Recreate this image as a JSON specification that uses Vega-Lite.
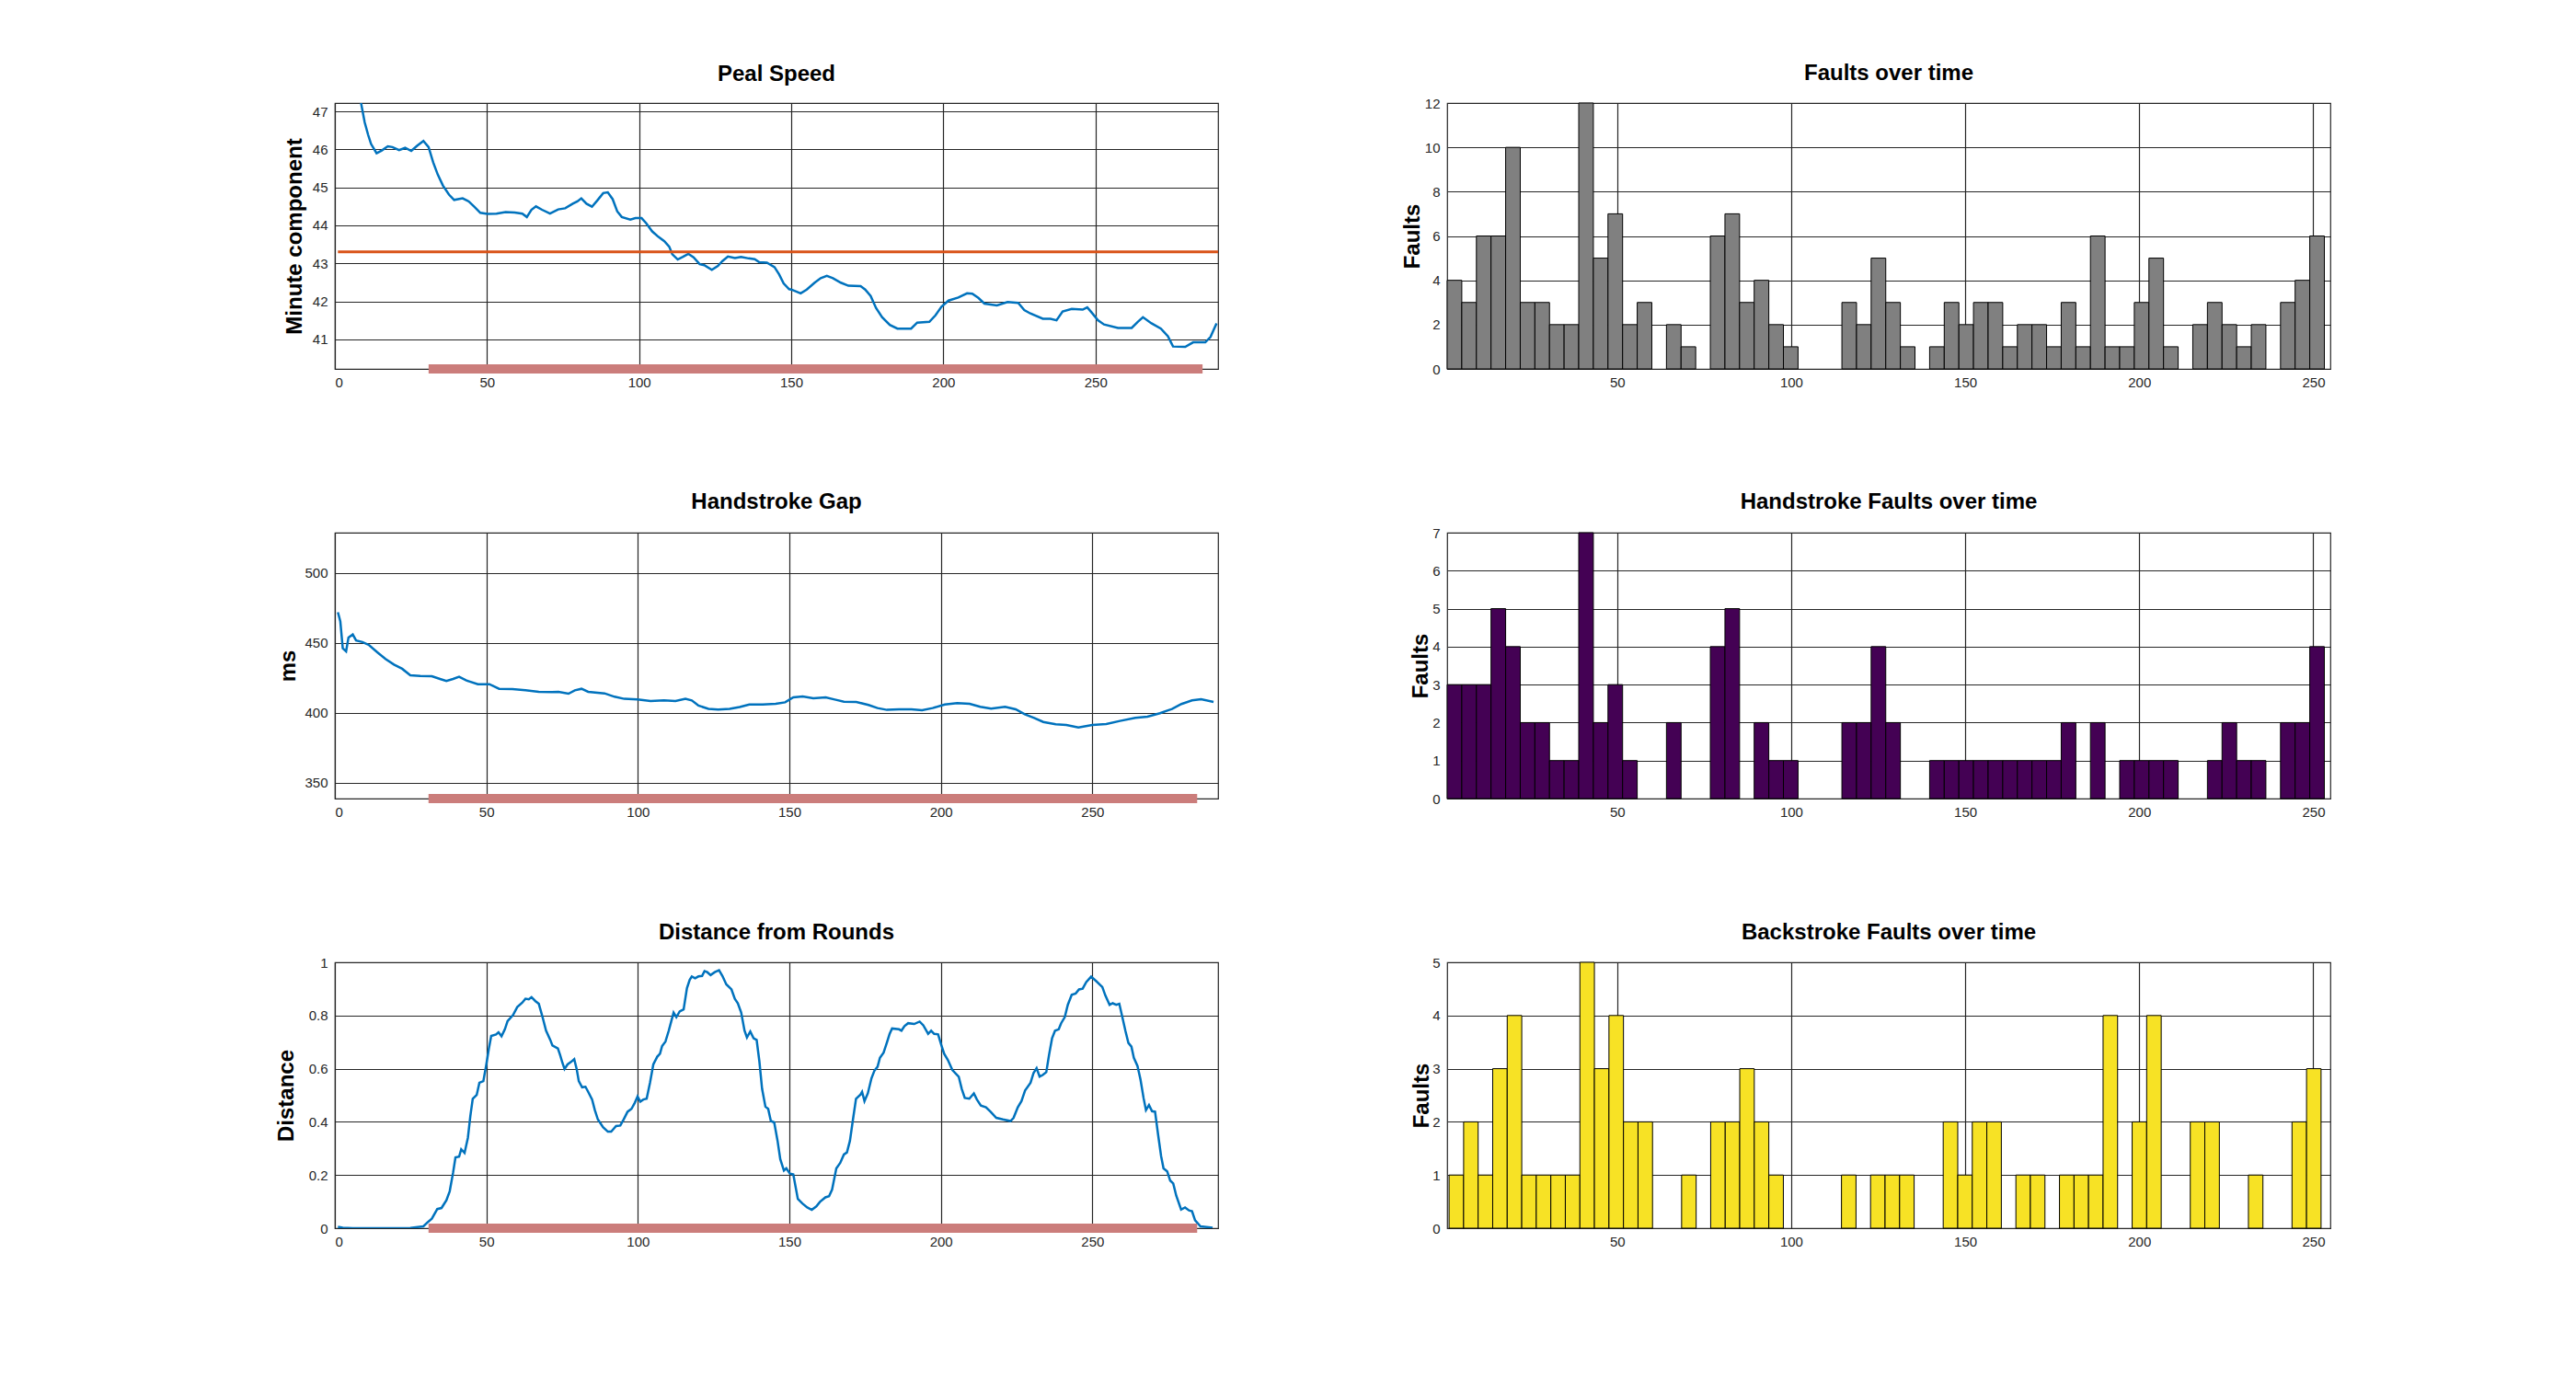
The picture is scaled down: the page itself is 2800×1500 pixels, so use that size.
{
  "$schema": "https://vega.github.io/schema/vega-lite/v6.json",
  "background": "white",
  "padding": {"left": 298, "top": 67, "right": 5, "bottom": 5},
  "config": {
    "font": "Liberation Sans",
    "view": {"stroke": "#262626", "strokeWidth": 1.2},
    "axis": {
      "labelFont": "Liberation Sans", "labelFontSize": 15, "labelColor": "#262626",
      "titleFont": "Liberation Sans", "titleFontSize": 24, "titleFontWeight": "bold", "titleColor": "#000000",
      "grid": true, "gridColor": "#262626", "gridWidth": 1.2, "gridOpacity": 1,
      "domain": false, "ticks": false
    },
    "axisX": {"labelPadding": 7},
    "axisY": {"labelPadding": 8},
    "title": {"font": "Liberation Sans", "fontSize": 24, "fontWeight": "bold", "color": "#000000", "anchor": "middle", "frame": "group", "baseline": "alphabetic"}
  },
  "datasets": {
    "peal": [
      {"x":1,"y":49.6},{"x":4,"y":48.4},{"x":7,"y":47.6},{"x":8.6,"y":47.22},{"x":9.8,"y":46.71},{"x":10.9,"y":46.39},{"x":11.9,"y":46.14},{"x":13.7,"y":45.9},{"x":15.4,"y":45.97},{"x":17.4,"y":46.08},{"x":18.9,"y":46.06},{"x":21.1,"y":45.98},{"x":23.1,"y":46.04},{"x":25.1,"y":45.96},{"x":27.1,"y":46.1},{"x":29.1,"y":46.22},{"x":30.8,"y":46.06},{"x":32.3,"y":45.66},{"x":33.8,"y":45.34},{"x":35.5,"y":45.05},{"x":37.5,"y":44.81},{"x":39.2,"y":44.67},{"x":42,"y":44.71},{"x":44,"y":44.63},{"x":45.8,"y":44.49},{"x":47.8,"y":44.33},{"x":50.1,"y":44.3},{"x":53.1,"y":44.31},{"x":56.1,"y":44.35},{"x":59.1,"y":44.34},{"x":61.6,"y":44.31},{"x":63.1,"y":44.22},{"x":64.6,"y":44.41},{"x":66.1,"y":44.5},{"x":68.1,"y":44.41},{"x":70.7,"y":44.31},{"x":73.4,"y":44.42},{"x":75.7,"y":44.45},{"x":78.2,"y":44.57},{"x":79.7,"y":44.63},{"x":81,"y":44.71},{"x":82.7,"y":44.57},{"x":84.5,"y":44.49},{"x":86.2,"y":44.65},{"x":88.2,"y":44.85},{"x":89.7,"y":44.87},{"x":91.3,"y":44.69},{"x":92.8,"y":44.37},{"x":94.3,"y":44.22},{"x":97.1,"y":44.15},{"x":98.8,"y":44.19},{"x":100.8,"y":44.19},{"x":102.3,"y":44.06},{"x":104.3,"y":43.84},{"x":106.3,"y":43.7},{"x":108.3,"y":43.58},{"x":109.9,"y":43.44},{"x":110.9,"y":43.24},{"x":112.7,"y":43.1},{"x":114.4,"y":43.17},{"x":116.2,"y":43.25},{"x":117.9,"y":43.16},{"x":119.9,"y":42.98},{"x":121.4,"y":42.95},{"x":123.9,"y":42.83},{"x":125.9,"y":42.93},{"x":127.4,"y":43.06},{"x":129.2,"y":43.18},{"x":131.5,"y":43.14},{"x":133.5,"y":43.17},{"x":136,"y":43.13},{"x":138,"y":43.11},{"x":139.5,"y":43.03},{"x":142,"y":43.02},{"x":144.5,"y":42.9},{"x":146,"y":42.71},{"x":147.5,"y":42.47},{"x":149.3,"y":42.32},{"x":150,"y":42.31},{"x":153.1,"y":42.21},{"x":155.1,"y":42.31},{"x":157.7,"y":42.49},{"x":159.7,"y":42.61},{"x":161.7,"y":42.67},{"x":163.7,"y":42.61},{"x":166.3,"y":42.49},{"x":168.8,"y":42.41},{"x":172.8,"y":42.4},{"x":174.3,"y":42.31},{"x":176.1,"y":42.14},{"x":177.9,"y":41.82},{"x":179.9,"y":41.58},{"x":182.4,"y":41.38},{"x":184.9,"y":41.28},{"x":189.4,"y":41.28},{"x":191.4,"y":41.44},{"x":195.4,"y":41.46},{"x":197.4,"y":41.63},{"x":199.4,"y":41.86},{"x":201.7,"y":42.02},{"x":204.9,"y":42.1},{"x":207.8,"y":42.21},{"x":209.5,"y":42.2},{"x":211.5,"y":42.09},{"x":213.5,"y":41.94},{"x":217.6,"y":41.89},{"x":221.1,"y":41.98},{"x":224.6,"y":41.96},{"x":226.6,"y":41.77},{"x":228.6,"y":41.68},{"x":232.7,"y":41.54},{"x":235.2,"y":41.54},{"x":237.2,"y":41.5},{"x":239.2,"y":41.73},{"x":242.2,"y":41.8},{"x":245.8,"y":41.78},{"x":247.3,"y":41.84},{"x":248.8,"y":41.7},{"x":250.8,"y":41.5},{"x":252.8,"y":41.39},{"x":257.4,"y":41.3},{"x":261.9,"y":41.3},{"x":263.9,"y":41.46},{"x":265.6,"y":41.58},{"x":268.4,"y":41.42},{"x":271.5,"y":41.28},{"x":273.8,"y":41.08},{"x":275.5,"y":40.81},{"x":279.5,"y":40.8},{"x":282.1,"y":40.92},{"x":286.1,"y":40.92},{"x":287.8,"y":41.06},{"x":289.8,"y":41.42}
    ],
    "hand": [
      {"x":1,"y":472},{"x":1.8,"y":465.4},{"x":2.6,"y":446.3},{"x":3.7,"y":444.1},{"x":4.5,"y":454},{"x":5.9,"y":456.1},{"x":7,"y":451.8},{"x":9.1,"y":450.7},{"x":11.3,"y":448.5},{"x":14,"y":443.4},{"x":16.7,"y":438.6},{"x":19.5,"y":434.6},{"x":22.2,"y":431.6},{"x":24.9,"y":427},{"x":28.2,"y":426.5},{"x":32,"y":426.3},{"x":34.7,"y":424.3},{"x":36.8,"y":422.8},{"x":39,"y":424.3},{"x":41,"y":425.9},{"x":43.4,"y":423.2},{"x":47.2,"y":420.6},{"x":51,"y":420.6},{"x":54.2,"y":417.3},{"x":58.6,"y":417.1},{"x":62.9,"y":416.2},{"x":67.3,"y":415.1},{"x":71.6,"y":414.9},{"x":73.8,"y":415.1},{"x":77.1,"y":413.8},{"x":79.2,"y":416.2},{"x":81.4,"y":417.3},{"x":83.6,"y":415.1},{"x":89,"y":414},{"x":92.3,"y":411.6},{"x":95.5,"y":410.1},{"x":99.9,"y":409.6},{"x":104.2,"y":408.6},{"x":108.6,"y":409},{"x":112.4,"y":408.6},{"x":115.7,"y":410.1},{"x":117.8,"y":409},{"x":120,"y":405.3},{"x":123.3,"y":402.9},{"x":126.5,"y":402.4},{"x":130.3,"y":402.9},{"x":133.6,"y":404.2},{"x":136.8,"y":406.1},{"x":141.2,"y":406.1},{"x":145.5,"y":406.6},{"x":148.6,"y":407.6},{"x":151.3,"y":411.2},{"x":154.4,"y":411.8},{"x":157.9,"y":410.5},{"x":162,"y":411.2},{"x":165,"y":409.6},{"x":168,"y":408.1},{"x":172.1,"y":407.9},{"x":176.1,"y":405.7},{"x":179.1,"y":403.5},{"x":182.2,"y":402.2},{"x":186.2,"y":402.6},{"x":190.3,"y":402.6},{"x":193.8,"y":402},{"x":197.3,"y":403.5},{"x":201.3,"y":406.1},{"x":205.4,"y":407},{"x":209.5,"y":406.6},{"x":213,"y":404.4},{"x":216.6,"y":403.1},{"x":221.2,"y":404.4},{"x":224.7,"y":402.6},{"x":227.7,"y":399.1},{"x":230.8,"y":396.5},{"x":233.8,"y":393.6},{"x":237.9,"y":391.9},{"x":241.4,"y":391.4},{"x":245.4,"y":389.7},{"x":250,"y":391.4},{"x":254.6,"y":392.1},{"x":259.1,"y":394.3},{"x":264.2,"y":396.5},{"x":268.2,"y":397.4},{"x":272.3,"y":399.8},{"x":276.3,"y":402.9},{"x":279.4,"y":406.4},{"x":282.9,"y":409},{"x":285.9,"y":409.9},{"x":290,"y":407.9}
    ],
    "dist": [
      {"x":1,"y":0.005},{"x":2.6,"y":0.002},{"x":5.9,"y":0},{"x":15,"y":0},{"x":24.9,"y":0.001},{"x":29.2,"y":0.007},{"x":30.5,"y":0.021},{"x":32,"y":0.036},{"x":33.8,"y":0.072},{"x":35.2,"y":0.076},{"x":36.8,"y":0.105},{"x":37.9,"y":0.139},{"x":39,"y":0.208},{"x":39.8,"y":0.266},{"x":41,"y":0.269},{"x":41.7,"y":0.297},{"x":42.8,"y":0.283},{"x":43.9,"y":0.34},{"x":44.7,"y":0.421},{"x":45.5,"y":0.487},{"x":46.8,"y":0.501},{"x":47.7,"y":0.547},{"x":49,"y":0.553},{"x":49.9,"y":0.61},{"x":50.8,"y":0.674},{"x":51.6,"y":0.723},{"x":53.2,"y":0.729},{"x":54,"y":0.737},{"x":55,"y":0.722},{"x":56.1,"y":0.748},{"x":57,"y":0.779},{"x":58.8,"y":0.802},{"x":60.2,"y":0.832},{"x":61.8,"y":0.848},{"x":62.9,"y":0.863},{"x":64,"y":0.861},{"x":64.9,"y":0.869},{"x":66.2,"y":0.854},{"x":67.3,"y":0.844},{"x":68.4,"y":0.8},{"x":69.7,"y":0.743},{"x":71.1,"y":0.708},{"x":71.8,"y":0.687},{"x":73.6,"y":0.676},{"x":74.3,"y":0.653},{"x":75.1,"y":0.622},{"x":75.8,"y":0.599},{"x":76.8,"y":0.616},{"x":77.9,"y":0.625},{"x":79,"y":0.636},{"x":79.8,"y":0.599},{"x":80.5,"y":0.553},{"x":81.6,"y":0.53},{"x":82.7,"y":0.532},{"x":83.6,"y":0.513},{"x":84.9,"y":0.484},{"x":85.8,"y":0.444},{"x":86.8,"y":0.409},{"x":88.5,"y":0.38},{"x":90.1,"y":0.363},{"x":91.2,"y":0.363},{"x":92.8,"y":0.384},{"x":94.2,"y":0.386},{"x":95.3,"y":0.409},{"x":96.6,"y":0.438},{"x":97.9,"y":0.449},{"x":99,"y":0.472},{"x":99.9,"y":0.495},{"x":100.8,"y":0.476},{"x":101.8,"y":0.484},{"x":102.9,"y":0.487},{"x":104,"y":0.547},{"x":105.1,"y":0.616},{"x":106.4,"y":0.645},{"x":107.3,"y":0.656},{"x":108,"y":0.685},{"x":109.1,"y":0.702},{"x":110.2,"y":0.743},{"x":111,"y":0.777},{"x":111.8,"y":0.811},{"x":112.7,"y":0.794},{"x":113.8,"y":0.815},{"x":115.1,"y":0.823},{"x":116.2,"y":0.903},{"x":117.1,"y":0.934},{"x":117.8,"y":0.947},{"x":118.9,"y":0.94},{"x":120,"y":0.947},{"x":121.2,"y":0.949},{"x":122,"y":0.967},{"x":122.9,"y":0.963},{"x":124,"y":0.952},{"x":125.4,"y":0.963},{"x":126.8,"y":0.97},{"x":127.9,"y":0.949},{"x":129.2,"y":0.917},{"x":130.9,"y":0.898},{"x":132,"y":0.863},{"x":133,"y":0.846},{"x":134.1,"y":0.811},{"x":135.2,"y":0.743},{"x":136,"y":0.717},{"x":137.1,"y":0.74},{"x":138.2,"y":0.714},{"x":139.2,"y":0.708},{"x":140.1,"y":0.628},{"x":141,"y":0.524},{"x":142.1,"y":0.457},{"x":143,"y":0.449},{"x":143.9,"y":0.403},{"x":145,"y":0.398},{"x":146.1,"y":0.329},{"x":147,"y":0.26},{"x":148.2,"y":0.217},{"x":149,"y":0.225},{"x":150.2,"y":0.205},{"x":151.3,"y":0.202},{"x":152.8,"y":0.11},{"x":154.3,"y":0.093},{"x":155.9,"y":0.078},{"x":157.4,"y":0.069},{"x":158.9,"y":0.082},{"x":160.1,"y":0.099},{"x":161.9,"y":0.116},{"x":163.1,"y":0.12},{"x":164.1,"y":0.145},{"x":165.5,"y":0.225},{"x":166.8,"y":0.246},{"x":168,"y":0.277},{"x":169,"y":0.285},{"x":170,"y":0.329},{"x":171,"y":0.409},{"x":172,"y":0.487},{"x":173.5,"y":0.503},{"x":174,"y":0.513},{"x":174.8,"y":0.478},{"x":175.9,"y":0.507},{"x":177.1,"y":0.564},{"x":178.1,"y":0.593},{"x":179.1,"y":0.607},{"x":179.9,"y":0.641},{"x":181.1,"y":0.66},{"x":182.3,"y":0.702},{"x":183.1,"y":0.731},{"x":183.9,"y":0.751},{"x":186.2,"y":0.748},{"x":187,"y":0.743},{"x":188,"y":0.76},{"x":189.2,"y":0.771},{"x":191.2,"y":0.768},{"x":193,"y":0.777},{"x":194.2,"y":0.763},{"x":195.8,"y":0.731},{"x":196.8,"y":0.743},{"x":197.8,"y":0.731},{"x":199.1,"y":0.729},{"x":200.1,"y":0.691},{"x":201.1,"y":0.656},{"x":202.3,"y":0.633},{"x":203.8,"y":0.595},{"x":205.9,"y":0.57},{"x":206.9,"y":0.524},{"x":207.9,"y":0.49},{"x":209.4,"y":0.487},{"x":210.9,"y":0.507},{"x":211.9,"y":0.484},{"x":213.2,"y":0.461},{"x":214.9,"y":0.455},{"x":216.4,"y":0.438},{"x":218.3,"y":0.415},{"x":220.5,"y":0.409},{"x":223,"y":0.403},{"x":224,"y":0.415},{"x":225.4,"y":0.455},{"x":226.6,"y":0.478},{"x":227.8,"y":0.518},{"x":229.6,"y":0.547},{"x":230.6,"y":0.584},{"x":231.6,"y":0.602},{"x":232.6,"y":0.57},{"x":233.6,"y":0.576},{"x":234.8,"y":0.587},{"x":235.7,"y":0.651},{"x":236.7,"y":0.714},{"x":237.7,"y":0.743},{"x":238.9,"y":0.748},{"x":239.7,"y":0.771},{"x":240.9,"y":0.794},{"x":241.9,"y":0.84},{"x":243.2,"y":0.878},{"x":244.5,"y":0.883},{"x":245.6,"y":0.898},{"x":246.8,"y":0.901},{"x":248,"y":0.926},{"x":249.6,"y":0.946},{"x":251.3,"y":0.929},{"x":253.3,"y":0.907},{"x":254.3,"y":0.875},{"x":255.7,"y":0.84},{"x":256.7,"y":0.846},{"x":257.9,"y":0.84},{"x":258.9,"y":0.844},{"x":259.9,"y":0.794},{"x":260.9,"y":0.743},{"x":261.9,"y":0.697},{"x":262.9,"y":0.683},{"x":263.7,"y":0.641},{"x":264.9,"y":0.61},{"x":265.9,"y":0.559},{"x":266.9,"y":0.49},{"x":267.7,"y":0.444},{"x":268.7,"y":0.463},{"x":269.7,"y":0.44},{"x":270.7,"y":0.438},{"x":271.7,"y":0.352},{"x":272.7,"y":0.271},{"x":273.5,"y":0.225},{"x":274.7,"y":0.214},{"x":275.7,"y":0.179},{"x":276.7,"y":0.168},{"x":277.7,"y":0.122},{"x":279.3,"y":0.07},{"x":280.6,"y":0.078},{"x":281.9,"y":0.067},{"x":282.9,"y":0.064},{"x":283.9,"y":0.03},{"x":285.7,"y":0.007},{"x":289.7,"y":0.002}
    ],
    "faults": [
      {"x0":1.18,"x1":5.38,"n":4},{"x0":5.38,"x1":9.58,"n":3},{"x0":9.58,"x1":13.78,"n":6},{"x0":13.78,"x1":17.98,"n":6},{"x0":17.98,"x1":22.18,"n":10},{"x0":22.18,"x1":26.38,"n":3},{"x0":26.38,"x1":30.58,"n":3},{"x0":30.58,"x1":34.78,"n":2},{"x0":34.78,"x1":38.98,"n":2},{"x0":38.98,"x1":43.18,"n":12},{"x0":43.18,"x1":47.38,"n":5},{"x0":47.38,"x1":51.58,"n":7},{"x0":51.58,"x1":55.78,"n":2},{"x0":55.78,"x1":59.98,"n":3},{"x0":64.18,"x1":68.38,"n":2},{"x0":68.38,"x1":72.58,"n":1},{"x0":76.78,"x1":80.98,"n":6},{"x0":80.98,"x1":85.18,"n":7},{"x0":85.18,"x1":89.38,"n":3},{"x0":89.38,"x1":93.58,"n":4},{"x0":93.58,"x1":97.78,"n":2},{"x0":97.78,"x1":101.98,"n":1},{"x0":114.58,"x1":118.78,"n":3},{"x0":118.78,"x1":122.98,"n":2},{"x0":122.98,"x1":127.18,"n":5},{"x0":127.18,"x1":131.38,"n":3},{"x0":131.38,"x1":135.58,"n":1},{"x0":139.78,"x1":143.98,"n":1},{"x0":143.98,"x1":148.18,"n":3},{"x0":148.18,"x1":152.38,"n":2},{"x0":152.38,"x1":156.58,"n":3},{"x0":156.58,"x1":160.78,"n":3},{"x0":160.78,"x1":164.98,"n":1},{"x0":164.98,"x1":169.18,"n":2},{"x0":169.18,"x1":173.38,"n":2},{"x0":173.38,"x1":177.58,"n":1},{"x0":177.58,"x1":181.78,"n":3},{"x0":181.78,"x1":185.98,"n":1},{"x0":185.98,"x1":190.18,"n":6},{"x0":190.18,"x1":194.38,"n":1},{"x0":194.38,"x1":198.58,"n":1},{"x0":198.58,"x1":202.78,"n":3},{"x0":202.78,"x1":206.98,"n":5},{"x0":206.98,"x1":211.18,"n":1},{"x0":215.38,"x1":219.58,"n":2},{"x0":219.58,"x1":223.78,"n":3},{"x0":223.78,"x1":227.98,"n":2},{"x0":227.98,"x1":232.18,"n":1},{"x0":232.18,"x1":236.38,"n":2},{"x0":240.58,"x1":244.78,"n":3},{"x0":244.78,"x1":248.98,"n":4},{"x0":248.98,"x1":253.18,"n":6}
    ],
    "hfaults": [
      {"x0":1.18,"x1":5.38,"n":3},{"x0":5.38,"x1":9.58,"n":3},{"x0":9.58,"x1":13.78,"n":3},{"x0":13.78,"x1":17.98,"n":5},{"x0":17.98,"x1":22.18,"n":4},{"x0":22.18,"x1":26.38,"n":2},{"x0":26.38,"x1":30.58,"n":2},{"x0":30.58,"x1":34.78,"n":1},{"x0":34.78,"x1":38.98,"n":1},{"x0":38.98,"x1":43.18,"n":7},{"x0":43.18,"x1":47.38,"n":2},{"x0":47.38,"x1":51.58,"n":3},{"x0":51.58,"x1":55.78,"n":1},{"x0":64.18,"x1":68.38,"n":2},{"x0":76.78,"x1":80.98,"n":4},{"x0":80.98,"x1":85.18,"n":5},{"x0":89.38,"x1":93.58,"n":2},{"x0":93.58,"x1":97.78,"n":1},{"x0":97.78,"x1":101.98,"n":1},{"x0":114.58,"x1":118.78,"n":2},{"x0":118.78,"x1":122.98,"n":2},{"x0":122.98,"x1":127.18,"n":4},{"x0":127.18,"x1":131.38,"n":2},{"x0":139.78,"x1":143.98,"n":1},{"x0":143.98,"x1":148.18,"n":1},{"x0":148.18,"x1":152.38,"n":1},{"x0":152.38,"x1":156.58,"n":1},{"x0":156.58,"x1":160.78,"n":1},{"x0":160.78,"x1":164.98,"n":1},{"x0":164.98,"x1":169.18,"n":1},{"x0":169.18,"x1":173.38,"n":1},{"x0":173.38,"x1":177.58,"n":1},{"x0":177.58,"x1":181.78,"n":2},{"x0":185.98,"x1":190.18,"n":2},{"x0":194.38,"x1":198.58,"n":1},{"x0":198.58,"x1":202.78,"n":1},{"x0":202.78,"x1":206.98,"n":1},{"x0":206.98,"x1":211.18,"n":1},{"x0":219.58,"x1":223.78,"n":1},{"x0":223.78,"x1":227.98,"n":2},{"x0":227.98,"x1":232.18,"n":1},{"x0":232.18,"x1":236.38,"n":1},{"x0":240.58,"x1":244.78,"n":2},{"x0":244.78,"x1":248.98,"n":2},{"x0":248.98,"x1":253.18,"n":4}
    ],
    "bfaults": [
      {"x0":1.73,"x1":5.91,"n":1},{"x0":5.91,"x1":10.08,"n":2},{"x0":10.08,"x1":14.26,"n":1},{"x0":14.26,"x1":18.43,"n":3},{"x0":18.43,"x1":22.61,"n":4},{"x0":22.61,"x1":26.78,"n":1},{"x0":26.78,"x1":30.96,"n":1},{"x0":30.96,"x1":35.13,"n":1},{"x0":35.13,"x1":39.31,"n":1},{"x0":39.31,"x1":43.48,"n":5},{"x0":43.48,"x1":47.66,"n":3},{"x0":47.66,"x1":51.83,"n":4},{"x0":51.83,"x1":56.01,"n":2},{"x0":56.01,"x1":60.18,"n":2},{"x0":68.53,"x1":72.71,"n":1},{"x0":76.88,"x1":81.06,"n":2},{"x0":81.06,"x1":85.23,"n":2},{"x0":85.23,"x1":89.41,"n":3},{"x0":89.41,"x1":93.58,"n":2},{"x0":93.58,"x1":97.76,"n":1},{"x0":114.46,"x1":118.63,"n":1},{"x0":122.81,"x1":126.98,"n":1},{"x0":126.98,"x1":131.16,"n":1},{"x0":131.16,"x1":135.33,"n":1},{"x0":143.68,"x1":147.86,"n":2},{"x0":147.86,"x1":152.03,"n":1},{"x0":152.03,"x1":156.21,"n":2},{"x0":156.21,"x1":160.38,"n":2},{"x0":164.56,"x1":168.73,"n":1},{"x0":168.73,"x1":172.91,"n":1},{"x0":177.08,"x1":181.26,"n":1},{"x0":181.26,"x1":185.43,"n":1},{"x0":185.43,"x1":189.61,"n":1},{"x0":189.61,"x1":193.78,"n":4},{"x0":197.96,"x1":202.13,"n":2},{"x0":202.13,"x1":206.31,"n":4},{"x0":214.66,"x1":218.83,"n":2},{"x0":218.83,"x1":223.01,"n":2},{"x0":231.36,"x1":235.53,"n":1},{"x0":243.88,"x1":248.06,"n":2},{"x0":248.06,"x1":252.23,"n":3}
    ]
  },
  "columns": 2,
  "spacing": {"row": 178, "column": 249},
  "bounds": "flush",
  "concat": [
    {
      "width": 960, "height": 289,
      "title": {"text": "Peal Speed", "offset": 19},
      "layer": [
        {
          "data": {"name": "peal"},
          "mark": {"type": "line", "color": "#0072BD", "strokeWidth": 2.5, "clip": true},
          "encoding": {
            "x": {"field": "x", "type": "quantitative", "scale": {"domain": [0, 290.3], "nice": false, "zero": false}, "axis": {"title": null, "values": [0, 50, 100, 150, 200, 250]}},
            "y": {"field": "y", "type": "quantitative", "scale": {"domain": [40.22, 47.22], "nice": false, "zero": false}, "axis": {"title": "Minute component", "titleX": -32, "values": [41, 42, 43, 44, 45, 46, 47]}}
          }
        },
        {
          "data": {"values": [{"x": 1, "x2": 290.3, "y": 43.3}]},
          "mark": {"type": "rule", "color": "#D95319", "strokeWidth": 3},
          "encoding": {"x": {"field": "x", "type": "quantitative"}, "x2": {"field": "x2"}, "y": {"field": "y", "type": "quantitative"}}
        },
        {
          "data": {"values": [{"x": 30.8, "x2": 285.2, "y": 40.22}]},
          "mark": {"type": "rule", "color": "#CB7D7B", "strokeWidth": 10, "strokeCap": "butt"},
          "encoding": {"x": {"field": "x", "type": "quantitative"}, "x2": {"field": "x2"}, "y": {"field": "y", "type": "quantitative"}}
        }
      ]
    },
    {
      "width": 960, "height": 289,
      "title": {"text": "Faults over time", "offset": 13},
      "data": {"name": "faults"},
      "mark": {"type": "bar", "color": "#808080", "stroke": "#000000", "strokeWidth": 1},
      "encoding": {
        "x": {"field": "x0", "type": "quantitative", "scale": {"domain": [1.18, 254.9], "nice": false, "zero": false}, "axis": {"title": null, "values": [50, 100, 150, 200, 250]}},
        "x2": {"field": "x1"},
        "y": {"field": "n", "type": "quantitative", "scale": {"domain": [0, 12], "nice": false}, "axis": {"title": "Faults", "titleX": -26, "values": [0, 2, 4, 6, 8, 10, 12]}},
        "y2": {"datum": 0}
      }
    },
    {
      "width": 960, "height": 289,
      "title": {"text": "Handstroke Gap", "offset": 21},
      "layer": [
        {
          "data": {"name": "hand"},
          "mark": {"type": "line", "color": "#0072BD", "strokeWidth": 2.5, "clip": true},
          "encoding": {
            "x": {"field": "x", "type": "quantitative", "scale": {"domain": [0, 291.5], "nice": false, "zero": false}, "axis": {"title": null, "values": [0, 50, 100, 150, 200, 250]}},
            "y": {"field": "y", "type": "quantitative", "scale": {"domain": [338.8, 528.9], "nice": false, "zero": false}, "axis": {"title": "ms", "titleX": -39, "values": [350, 400, 450, 500]}}
          }
        },
        {
          "data": {"values": [{"x": 30.9, "x2": 284.6, "y": 338.8}]},
          "mark": {"type": "rule", "color": "#CB7D7B", "strokeWidth": 10, "strokeCap": "butt"},
          "encoding": {"x": {"field": "x", "type": "quantitative"}, "x2": {"field": "x2"}, "y": {"field": "y", "type": "quantitative"}}
        }
      ]
    },
    {
      "width": 960, "height": 289,
      "title": {"text": "Handstroke Faults over time", "offset": 14},
      "data": {"name": "hfaults"},
      "mark": {"type": "bar", "color": "#440154", "stroke": "#000000", "strokeWidth": 1},
      "encoding": {
        "x": {"field": "x0", "type": "quantitative", "scale": {"domain": [1.18, 254.9], "nice": false, "zero": false}, "axis": {"title": null, "values": [50, 100, 150, 200, 250]}},
        "x2": {"field": "x1"},
        "y": {"field": "n", "type": "quantitative", "scale": {"domain": [0, 7], "nice": false}, "axis": {"title": "Faults", "titleX": -17, "values": [0, 1, 2, 3, 4, 5, 6, 7]}},
        "y2": {"datum": 0}
      }
    },
    {
      "width": 960, "height": 289,
      "title": {"text": "Distance from Rounds", "offset": 13},
      "layer": [
        {
          "data": {"name": "dist"},
          "mark": {"type": "line", "color": "#0072BD", "strokeWidth": 2.5, "clip": true},
          "encoding": {
            "x": {"field": "x", "type": "quantitative", "scale": {"domain": [0, 291.5], "nice": false, "zero": false}, "axis": {"title": null, "values": [0, 50, 100, 150, 200, 250]}},
            "y": {"field": "y", "type": "quantitative", "scale": {"domain": [0, 1], "nice": false}, "axis": {"title": "Distance", "titleX": -41, "format": "~g", "values": [0, 0.2, 0.4, 0.6, 0.8, 1]}}
          }
        },
        {
          "data": {"values": [{"x": 30.9, "x2": 284.6, "y": 0}]},
          "mark": {"type": "rule", "color": "#CB7D7B", "strokeWidth": 10, "strokeCap": "butt"},
          "encoding": {"x": {"field": "x", "type": "quantitative"}, "x2": {"field": "x2"}, "y": {"field": "y", "type": "quantitative"}}
        }
      ]
    },
    {
      "width": 960, "height": 289,
      "title": {"text": "Backstroke Faults over time", "offset": 13},
      "data": {"name": "bfaults"},
      "mark": {"type": "bar", "color": "#F7E225", "stroke": "#000000", "strokeWidth": 1},
      "encoding": {
        "x": {"field": "x0", "type": "quantitative", "scale": {"domain": [1.18, 254.9], "nice": false, "zero": false}, "axis": {"title": null, "values": [50, 100, 150, 200, 250]}},
        "x2": {"field": "x1"},
        "y": {"field": "n", "type": "quantitative", "scale": {"domain": [0, 5], "nice": false}, "axis": {"title": "Faults", "titleX": -16, "values": [0, 1, 2, 3, 4, 5]}},
        "y2": {"datum": 0}
      }
    }
  ]
}
